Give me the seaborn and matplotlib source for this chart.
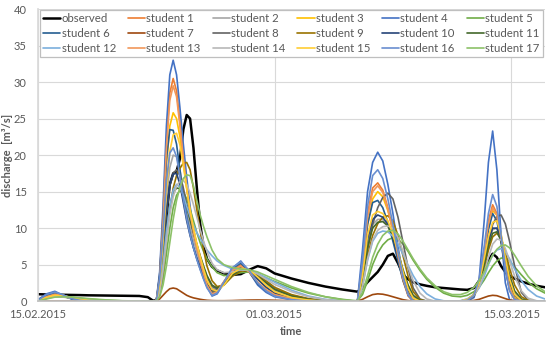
import pandas as pd
import matplotlib
matplotlib.use("Agg")
import matplotlib.pyplot as plt
import matplotlib.dates as mdates
import seaborn as sns

# -- data: days after 15.02.2015, discharge in m3/s --
start = pd.Timestamp("2015-02-15")

days = [
    0, 0.5, 1.0, 1.5, 2.0, 2.5, 3.0, 4.0, 5.0, 6.0, 6.5, 6.8,
    7.0, 7.2, 7.4, 7.6, 7.8, 8.0, 8.2, 8.4, 8.6, 8.8, 9.0, 9.2, 9.4, 9.6, 9.8, 10.0, 10.3, 10.6,
    11.0, 11.5, 12.0, 12.5, 13.0, 13.5, 14.0, 15.0, 16.0, 17.0, 18.0, 18.6,
    18.9, 19.2, 19.5, 19.8, 20.1, 20.4, 20.7, 21.0, 21.3, 21.6, 21.9, 22.2, 22.6, 23.0, 23.5,
    24.0, 24.5, 25.0, 25.4, 25.8, 26.1, 26.4, 26.65, 26.9, 27.15, 27.4, 27.65, 27.9, 28.2, 28.6, 29.0, 29.5, 30.0,
]

observed = [
    0.95, 0.92, 0.9, 0.87, 0.85, 0.83, 0.8, 0.77, 0.74, 0.71, 0.55, 0.08,
    0.1, 1.5, 5.5, 11.5, 16.0, 17.5, 17.8, 19.5, 23.5, 25.5, 25.0, 21.0, 15.5, 10.5, 7.5, 5.8, 4.7, 4.2,
    3.8, 3.6, 3.7, 4.3, 4.8, 4.5, 3.8, 3.1, 2.5, 2.0, 1.6, 1.4,
    1.3, 1.8, 2.6, 3.3, 4.0, 5.0, 6.2, 6.5, 5.2, 3.6, 3.0, 2.6, 2.3, 2.1, 1.9,
    1.8, 1.7, 1.6, 1.55, 1.8, 2.8, 4.2, 5.6, 6.5, 6.0, 4.8, 4.0, 3.5, 3.1, 2.7, 2.4, 2.1, 1.9,
]
student_1 = [
    0.1, 0.8, 1.15, 0.8, 0.4, 0.15, 0.05, 0, 0, 0, 0, 0,
    0, 3.5, 12, 22, 28.5, 30.5, 28.8, 24.5, 20, 15.8, 12.2, 9.4, 7.2, 5.3, 3.5, 2.0, 0.9, 1.2,
    2.6, 4.3, 5.0, 4.0, 2.4, 1.4, 0.8, 0.3, 0.1, 0, 0, 0,
    0, 5, 12, 15.5, 16.2, 15.2, 12.8, 9.5, 6, 2.8, 0.7, 0, 0, 0, 0,
    0, 0, 0, 0.1, 0.8, 2.8, 7, 11, 13.2, 12, 8.5, 4.5, 1.5, 0.2, 0, 0, 0, 0,
]
student_2 = [
    0.05, 0.5, 0.85, 0.7, 0.45, 0.22, 0.08, 0, 0, 0, 0, 0,
    0, 2.2, 7.5, 14, 18.3, 20, 19.8, 18, 15.2, 12.5, 10.2, 8.3, 6.7, 5.3, 4.0, 2.8, 1.7, 1.6,
    2.4, 3.9, 4.5, 4.3, 3.3, 2.3, 1.4, 0.55, 0.15, 0, 0, 0,
    0, 3, 8, 10.5, 11.2, 11.2, 10.4, 8.8, 6.6, 4.1, 1.9, 0.6, 0.05, 0, 0,
    0, 0, 0, 0.2, 0.9, 2.3, 5.2, 8, 9.8, 10, 8.8, 6.3, 3.5, 1.2, 0.2, 0, 0, 0,
]
student_3 = [
    0.1, 0.7, 1.0, 0.8, 0.45, 0.2, 0.08, 0, 0, 0, 0, 0,
    0, 3, 10, 18.5, 24, 25.8, 25, 22.5, 19, 15.5, 12.4, 9.8, 7.6, 5.8, 4.0, 2.5, 1.3, 1.3,
    2.4, 4.0, 4.6, 4.2, 3.0, 1.9, 1.1, 0.4, 0.1, 0, 0, 0,
    0, 4.2, 10.5, 14, 15, 14.3, 12.4, 9.8, 6.6, 3.4, 1.2, 0.2, 0, 0, 0,
    0, 0, 0, 0.15, 0.8, 2.6, 6.5, 10.2, 12.4, 11.8, 9, 5.2, 2.2, 0.5, 0, 0, 0, 0,
]
student_4 = [
    0.2, 1.0, 1.35, 0.8, 0.3, 0.05, 0, 0, 0, 0, 0, 0,
    0, 4, 13, 24, 31, 33, 31, 26.5, 21.5, 17, 13, 10, 7.6, 5.6, 3.6, 2.0, 0.7, 1.0,
    2.5, 4.5, 5.5, 4.0, 2.2, 1.2, 0.6, 0.2, 0, 0, 0, 0,
    0, 7, 15, 19, 20.4, 19.2, 16, 12, 7.5, 3.5, 0.8, 0, 0, 0, 0,
    0, 0, 0, 0, 0.5, 3, 11, 19, 23.3, 18, 9, 2.5, 0.2, 0, 0, 0, 0, 0,
]
student_5 = [
    0.05, 0.45, 0.75, 0.7, 0.55, 0.4, 0.28, 0.12, 0.04, 0, 0, 0,
    0, 0.8, 3, 6.5, 10, 12.8, 14.5, 15.2, 15, 14, 12.6, 11, 9.4, 8, 6.8, 5.8, 4.7, 3.9,
    3.5, 3.6, 3.9, 4.0, 3.7, 3.2, 2.7, 1.8, 1.1, 0.6, 0.25, 0.1,
    0.05, 0.9, 2.8, 5, 6.6, 7.7, 8.4, 8.7, 8.5, 7.8, 6.8, 5.6, 4.2, 3.0, 1.9,
    1.1, 0.7, 0.6, 0.8, 1.3, 1.9, 2.9, 3.9, 4.8, 5.5, 5.9, 5.9, 5.5, 4.7, 3.6, 2.6, 1.7, 1.1,
]
student_6 = [
    0.15, 0.8, 1.1, 0.7, 0.3, 0.08, 0, 0, 0, 0, 0, 0,
    0, 3.5, 11, 19.5, 23.5, 23.4, 21.5, 18, 14.5, 11.6, 9.3, 7.4, 5.8, 4.4, 3.1, 2.0, 1.1, 1.3,
    2.6, 4.5, 5.2, 4.0, 2.4, 1.4, 0.8, 0.25, 0.05, 0, 0, 0,
    0, 4.5, 10.5, 13.5, 13.8, 12.8, 10.8, 8.2, 5.5, 2.8, 0.9, 0.1, 0, 0, 0,
    0, 0, 0, 0.1, 0.7, 2.5, 6.2, 9.8, 12, 11, 8, 4.4, 1.6, 0.3, 0, 0, 0, 0,
]
student_7 = [
    0, 0, 0, 0, 0, 0, 0, 0, 0, 0, 0, 0,
    0, 0.3, 0.8, 1.3, 1.7, 1.8, 1.7, 1.4, 1.1, 0.8, 0.6, 0.45, 0.35, 0.25, 0.18, 0.12, 0.08, 0.06,
    0.06, 0.08, 0.12, 0.15, 0.16, 0.15, 0.12, 0.06, 0.02, 0, 0, 0,
    0, 0.25, 0.6, 0.9, 1.0, 0.95, 0.8, 0.6, 0.4, 0.2, 0.08, 0.02, 0, 0, 0,
    0, 0, 0, 0, 0.1, 0.25, 0.5, 0.7, 0.8, 0.75, 0.55, 0.35, 0.15, 0.05, 0, 0, 0, 0,
]
student_8 = [
    0.05, 0.45, 0.75, 0.65, 0.45, 0.25, 0.1, 0.02, 0, 0, 0, 0,
    0, 1.8, 6.5, 12, 15.8, 17.5, 18, 17.2, 15.5, 13.3, 11.2, 9.3, 7.6, 6.0, 4.6, 3.3, 2.0, 1.7,
    2.3, 3.7, 4.4, 4.3, 3.5, 2.6, 1.7, 0.8, 0.3, 0.05, 0, 0,
    0, 2.5, 7, 10.5, 12.8, 14.2, 14.8, 14, 11.5, 8, 4.5, 1.8, 0.3, 0, 0,
    0, 0, 0, 0.2, 0.8, 2.2, 5, 8, 10.5, 11.6, 11.8, 10.6, 8.2, 4.8, 1.2, 0.1, 0, 0,
]
student_9 = [
    0.05, 0.4, 0.7, 0.6, 0.45, 0.28, 0.14, 0.03, 0, 0, 0, 0,
    0, 1.2, 4.2, 8.5, 12.5, 15.5, 17.2, 18.2, 18.9, 19, 18, 15.5, 12.5, 9.6, 7, 4.8, 2.8, 2.0,
    2.2, 3.4, 4.1, 4.2, 3.6, 2.8, 1.9, 0.9, 0.35, 0.08, 0, 0,
    0, 2.2, 6.2, 9, 10.6, 11.5, 11.7, 11, 9, 6.2, 3.4, 1.3, 0.2, 0, 0,
    0, 0, 0, 0.2, 0.8, 2, 4.5, 7, 8.8, 9.3, 8.6, 6.8, 4.5, 2.2, 0.6, 0.1, 0, 0,
]
student_10 = [
    0.05, 0.5, 0.8, 0.65, 0.4, 0.2, 0.08, 0, 0, 0, 0, 0,
    0, 2, 7, 12.5, 16, 17.4, 17.5, 16, 13.5, 11, 9, 7.3, 5.9, 4.6, 3.4, 2.3, 1.4, 1.5,
    2.4, 4.0, 4.6, 4.2, 3.0, 1.9, 1.1, 0.4, 0.1, 0, 0, 0,
    0, 3.3, 8.5, 11.2, 11.8, 11.5, 10.5, 8.6, 6.2, 3.6, 1.5, 0.3, 0, 0, 0,
    0, 0, 0, 0.2, 0.9, 2.4, 5.6, 8.4, 10, 10, 8.2, 5.4, 2.7, 0.8, 0.1, 0, 0, 0,
]
student_11 = [
    0.05, 0.4, 0.7, 0.6, 0.4, 0.22, 0.1, 0.02, 0, 0, 0, 0,
    0, 1.5, 5, 9.5, 13, 14.8, 15.5, 15.4, 14.5, 13, 11.2, 9.4, 7.8, 6.2, 4.8, 3.5, 2.2, 1.8,
    2.3, 3.6, 4.3, 4.2, 3.4, 2.5, 1.6, 0.7, 0.25, 0.05, 0, 0,
    0, 2.8, 7.4, 10, 10.8, 10.9, 10.3, 8.8, 6.7, 4.3, 2.2, 0.8, 0.1, 0, 0,
    0, 0, 0, 0.2, 0.9, 2.3, 5.0, 7.6, 9.3, 9.5, 8.3, 6, 3.5, 1.4, 0.3, 0, 0, 0,
]
student_12 = [
    0.05, 0.4, 0.65, 0.6, 0.45, 0.3, 0.16, 0.05, 0, 0, 0, 0,
    0, 1.5, 5, 9.5, 13, 15.2, 16, 15.6, 14.5, 13, 11.6, 10.4, 9.4, 8.6, 7.8, 7.0, 6.2, 5.5,
    4.9, 4.4, 4.3, 4.2, 3.8, 3.2, 2.6, 1.5, 0.7, 0.25, 0.05, 0,
    0, 2, 5.6, 8.2, 9.3, 9.6, 9.5, 8.9, 7.8, 6.4, 4.9, 3.5, 2.0, 1.0, 0.3,
    0.05, 0, 0.05, 0.3, 0.9, 1.8, 3.4, 5.0, 6.3, 7.0, 7.2, 6.8, 5.8, 4.4, 2.8, 1.6, 0.7, 0.3,
]
student_13 = [
    0.05, 0.6, 0.95, 0.75, 0.4, 0.15, 0.05, 0, 0, 0, 0, 0,
    0, 3, 11, 21, 27.5, 29.5, 28, 24, 19.6, 15.6, 12.2, 9.5, 7.3, 5.5, 3.7, 2.2, 1.0, 1.3,
    2.7, 4.2, 4.8, 4.0, 2.6, 1.6, 0.9, 0.35, 0.1, 0, 0, 0,
    0, 4.6, 11.5, 15, 15.8, 14.9, 12.6, 9.6, 6.2, 3.0, 0.9, 0.1, 0, 0, 0,
    0, 0, 0, 0.1, 0.8, 2.7, 6.8, 10.6, 12.8, 11.8, 8.6, 4.8, 1.8, 0.3, 0, 0, 0, 0,
]
student_14 = [
    0.05, 0.35, 0.6, 0.55, 0.42, 0.28, 0.16, 0.05, 0, 0, 0, 0,
    0, 1.2, 4.2, 8.2, 11.8, 14.3, 15.8, 16.4, 16.5, 16, 14.8, 13.2, 11.5, 9.8, 8.2, 6.8, 5.2, 4.3,
    3.9, 4.0, 4.3, 4.2, 3.7, 3.0, 2.3, 1.3, 0.6, 0.2, 0.05, 0,
    0, 2, 5.8, 8.4, 9.7, 10.2, 10.3, 10, 8.7, 6.8, 4.7, 2.8, 1.1, 0.3, 0,
    0, 0, 0.05, 0.3, 0.9, 1.9, 3.9, 6, 7.8, 8.5, 8.4, 7.2, 5.5, 3.4, 1.4, 0.4, 0.05, 0,
]
student_15 = [
    0.05, 0.5, 0.8, 0.7, 0.45, 0.25, 0.1, 0, 0, 0, 0, 0,
    0, 2.2, 8, 15, 20.5, 22.8, 23, 21.4, 18.6, 15.4, 12.5, 10, 7.9, 6.1, 4.4, 2.9, 1.6, 1.4,
    2.2, 3.8, 4.5, 4.3, 3.3, 2.2, 1.3, 0.5, 0.15, 0, 0, 0,
    0, 3.5, 9, 11.8, 12.3, 12, 11, 9.2, 6.8, 4, 1.7, 0.4, 0, 0, 0,
    0, 0, 0, 0.2, 0.9, 2.5, 5.8, 8.8, 10.8, 11, 9.2, 6, 3, 0.9, 0.1, 0, 0, 0,
]
student_16 = [
    0.1, 0.9, 1.25, 0.85, 0.35, 0.1, 0, 0, 0, 0, 0, 0,
    0, 3, 9.5, 16.5, 20.3, 21, 19.8, 17, 14, 11.3, 9.1, 7.3, 5.7, 4.3, 3.0, 1.8, 0.8, 1.1,
    2.6, 4.6, 5.4, 4.2, 2.5, 1.4, 0.7, 0.2, 0, 0, 0, 0,
    0, 5.5, 13, 17.2, 18, 16.8, 14, 10.5, 6.8, 3.3, 0.9, 0, 0, 0, 0,
    0, 0, 0, 0.1, 0.8, 3, 7.5, 12, 14.6, 13, 9, 4.5, 1.4, 0.2, 0, 0, 0, 0,
]
student_17 = [
    0.02, 0.3, 0.55, 0.6, 0.55, 0.45, 0.35, 0.18, 0.06, 0.01, 0, 0,
    0, 0.6, 2.2, 4.8, 8, 11.2, 13.8, 15.6, 16.8, 17.3, 17.2, 15.8, 13.8, 11.8, 10.2, 8.8, 7.0, 5.8,
    5.0, 4.6, 4.4, 4.3, 4.0, 3.5, 3.0, 2.0, 1.2, 0.6, 0.2, 0.05,
    0, 1.2, 3.5, 6, 7.8, 9, 9.6, 9.7, 9.2, 8.2, 7, 5.8, 4.4, 3.2, 2.1,
    1.3, 0.9, 0.9, 1.2, 1.9, 2.8, 4.0, 5.2, 6.3, 7.1, 7.6, 7.7, 7.3, 6.3, 4.8, 3.4, 2.1, 1.3,
]

names = ["observed"] + [f"student {i}" for i in range(1, 18)]
series = [observed, student_1, student_2, student_3, student_4, student_5, student_6,
          student_7, student_8, student_9, student_10, student_11, student_12,
          student_13, student_14, student_15, student_16, student_17]
colors = ["#000000", "#ED7D31", "#A5A5A5", "#FFC000", "#4472C4", "#70AD47",
          "#255E91", "#9E480E", "#636363", "#997300", "#264478", "#43682B",
          "#7CAFDD", "#F1975A", "#B7B7B7", "#FFCD33", "#698ED0", "#8CC168"]

times = start + pd.to_timedelta(days, unit="D")
frames = []
for name, values in zip(names, series):
    frames.append(pd.DataFrame({"time": times, "discharge": values, "series": name}))
df = pd.concat(frames, ignore_index=True)

# -- plot --
sns.set_theme(style="white")
plt.rcParams["font.family"] = ["Lato", "DejaVu Sans"]
grey_text = "#595959"

fig = plt.figure(figsize=(5.5, 3.38), dpi=100)
ax = fig.add_axes([0.069, 0.109, 0.922, 0.864])

sns.lineplot(data=df, x="time", y="discharge", hue="series", hue_order=names,
             palette=colors, estimator=None, sort=False, legend=False, ax=ax)

for i, line in enumerate(ax.lines):
    line.set_linewidth(1.8 if i == 0 else 1.2)
    line.set_solid_joinstyle("round")

ax.set_ylim(0, 40)
ax.set_yticks(range(0, 41, 5))
ax.set_xlim(start, start + pd.Timedelta(days=30))
ax.xaxis.set_major_locator(mdates.DayLocator(bymonthday=[1, 15]))
ax.xaxis.set_major_formatter(mdates.DateFormatter("%d.%m.%Y"))

ax.grid(True, color="#D9D9D9", linewidth=0.8)
ax.set_axisbelow(True)
for side in ["top", "right"]:
    ax.spines[side].set_visible(False)
ax.spines["left"].set_color("#D9D9D9")
ax.spines["bottom"].set_color("#BFBFBF")
ax.tick_params(axis="both", length=0, labelsize=8, labelcolor=grey_text)
ax.tick_params(axis="y", pad=8)
ax.tick_params(axis="x", pad=6)

ax.set_xlabel("time", fontsize=8, fontweight="bold", color=grey_text, labelpad=4)
ax.set_ylabel("discharge  [m³/s]", fontsize=8, fontweight="bold", color=grey_text)
ax.yaxis.set_label_coords(-0.05, 0.5)

# legend is filled row by row, matplotlib fills columns, so reorder
order = [r * 6 + c for c in range(6) for r in range(3)]
handles = [ax.lines[i] for i in order]
labels = [names[i] for i in order]
leg = ax.legend(handles, labels, ncol=6, loc="upper left", mode="expand",
                bbox_to_anchor=(0.004, 0.846, 0.992, 0.151), fontsize=8.2,
                frameon=True, fancybox=False, framealpha=1, edgecolor="#BFBFBF",
                borderpad=0.3, labelspacing=0.32, handlelength=1.5,
                handletextpad=0.1, columnspacing=0.5, borderaxespad=0)
leg.get_frame().set_linewidth(0.9)
for text in leg.get_texts():
    text.set_color(grey_text)

fig.savefig("out.png", dpi=100)
